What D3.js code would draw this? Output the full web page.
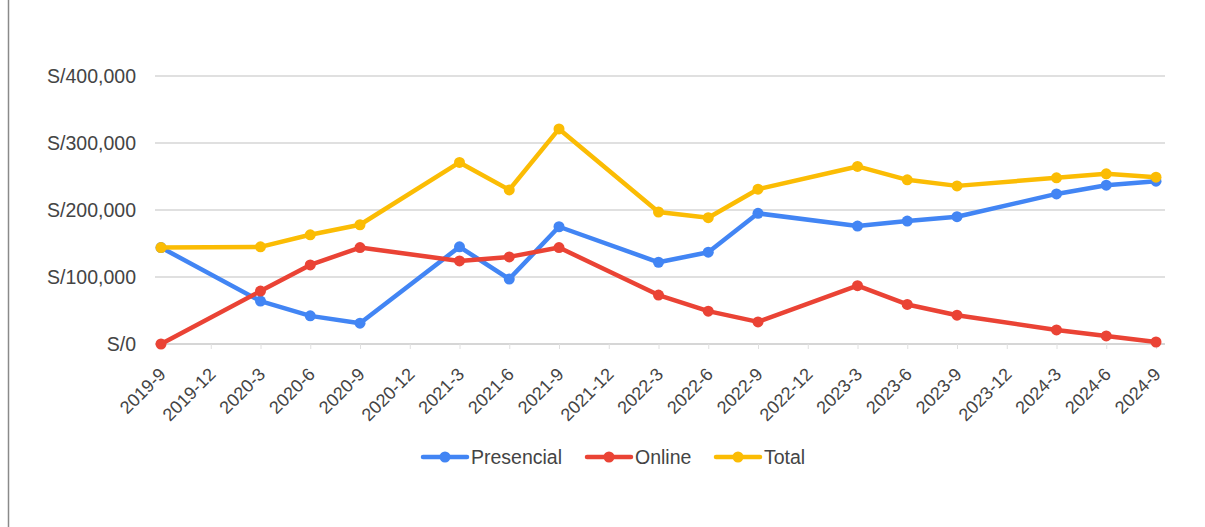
<!DOCTYPE html>
<html>
<head>
<meta charset="utf-8">
<script src="https://cdn.jsdelivr.net/npm/d3@7"></script>
<style>
  body { margin: 0; background: #fff; }
  text { font-family: "Liberation Sans", Arial, sans-serif; }
</style>
</head>
<body>
<script>
// quarters on the x axis
var quarters = ["2019-9","2019-12","2020-3","2020-6","2020-9","2020-12","2021-3","2021-6","2021-9","2021-12",
                "2022-3","2022-6","2022-9","2022-12","2023-3","2023-6","2023-9","2023-12","2024-3","2024-6","2024-9"];

// series values (null = no data for that quarter)
var presencial = [144000,null,64000,42000,31000,null,145000,97000,175000,null,122000,137000,195000,null,176000,183500,190000,null,224000,237000,243000];
var online     = [0,null,79000,118000,144000,null,124000,130000,144000,null,73000,49000,33000,null,87000,59000,43000,null,21000,12000,3000];
var total      = [144000,null,145000,163000,178000,null,271000,230000,321000,null,197000,188500,231000,null,265000,245000,236000,null,248000,254000,249000];

var yTicks = [0,100000,200000,300000,400000];

var seriesNames = ["Presencial","Online","Total"];
var seriesColors = ["#4285F4","#EA4335","#FBBC04"];

//Width and height
var w = 1205;
var h = 527;

var svg = d3.select("body")
            .append("svg")
            .attr("width", w)
            .attr("height", h);

// left border of the page
svg.append("line")
    .attr("x1", 8.5).attr("x2", 8.5)
    .attr("y1", 0).attr("y2", h)
    .attr("stroke", "#8a8a8a")
    .attr("stroke-width", 1.5);

//scales
var xScale = d3.scalePoint()
            .domain(quarters)
            .range([161, 1156]);

var yScale = d3.scaleLinear()
           .domain([0, 400000])
           .range([344, 76]);

//gridlines
svg.append("g")
    .selectAll("line")
    .data(yTicks)
    .enter()
    .append("line")
    .attr("x1", 155)
    .attr("x2", 1165)
    .attr("y1", function(d){ return yScale(d); })
    .attr("y2", function(d){ return yScale(d); })
    .attr("stroke", function(d){ return d == 0 ? "#c8c8c8" : "#d6d6d6"; })
    .attr("stroke-width", 1.3);

//y axis labels
svg.append("g")
    .selectAll("text")
    .data(yTicks)
    .enter()
    .append("text")
    .attr("x", 136)
    .attr("y", function(d){ return yScale(d); })
    .attr("dy", "0.35em")
    .attr("text-anchor", "end")
    .attr("fill", "#444")
    .attr("font-size", 19.5)
    .text(function(d){ return "S/" + d3.format(",")(d); });

//x axis
var xAxis = svg.append("g")
    .attr("transform", "translate(0," + yScale(0) + ")")
    .call(d3.axisBottom(xScale).tickSize(5));

xAxis.select(".domain").remove();
xAxis.selectAll(".tick line").attr("stroke", "#e0e0e0");
xAxis.selectAll(".tick text")
    .attr("fill", "#444")
    .attr("font-size", 18)
    .attr("font-family", "Liberation Sans, Arial, sans-serif")
    .attr("text-anchor", "end")
    .attr("x", 0)
    .attr("y", 0)
    .attr("dy", "0.35em")
    .attr("transform", "translate(1,27) rotate(-45)");

//lines
var allSeries = [presencial, online, total];

var line = d3.line()
    .x(function(d){ return xScale(d.q); })
    .y(function(d){ return yScale(d.v); });

allSeries.forEach(function(vals, i){
    var pts = quarters.map(function(q, j){ return {q: q, v: vals[j]}; })
                      .filter(function(d){ return d.v !== null; });

    svg.append("path")
        .datum(pts)
        .attr("fill", "none")
        .attr("stroke", seriesColors[i])
        .attr("stroke-width", 4.5)
        .attr("stroke-linejoin", "round")
        .attr("d", line);

    svg.append("g")
        .selectAll("circle")
        .data(pts)
        .enter()
        .append("circle")
        .attr("cx", function(d){ return xScale(d.q); })
        .attr("cy", function(d){ return yScale(d.v); })
        .attr("r", 5.5)
        .attr("fill", seriesColors[i]);
});

//legend
var legendX = [423, 587, 716];
var legend = svg.append("g");
seriesNames.forEach(function(name, i){
    var g = legend.append("g").attr("transform", "translate(" + legendX[i] + ",457)");
    g.append("line")
        .attr("x1", 0).attr("x2", 44)
        .attr("stroke", seriesColors[i])
        .attr("stroke-width", 4.5)
        .attr("stroke-linecap", "round");
    g.append("circle")
        .attr("cx", 22).attr("r", 5.5)
        .attr("fill", seriesColors[i]);
    g.append("text")
        .attr("x", 48)
        .attr("dy", "0.35em")
        .attr("fill", "#444")
        .attr("font-size", 19.5)
        .text(name);
});
</script>
</body>
</html>
